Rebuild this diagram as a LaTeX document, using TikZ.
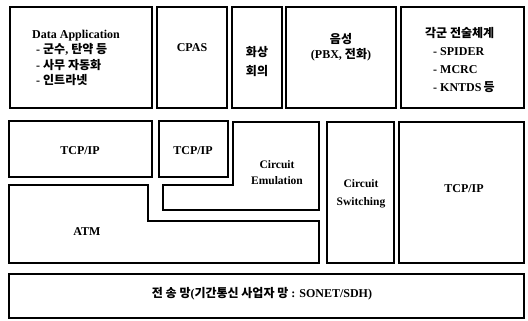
\documentclass[tikz,border=0pt]{standalone}
\usepackage{fontspec}
\setmainfont{Liberation Serif}
\newfontfamily\kr{Noto Sans CJK KR}
\newcommand{\K}[1]{{\kr\bfseries #1}}
\tikzset{
  box/.style={draw=black,line width=1.3pt,line join=miter},
  lbl/.style={font=\bfseries\fontsize{12}{15}\selectfont,align=center,inner sep=0pt},
  lbll/.style={lbl,align=left},
  lblr/.style={lbl,font=\bfseries\fontsize{11.5}{17}\selectfont}
}
\begin{document}
\begin{tikzpicture}[x=1pt,y=-1pt]
\useasboundingbox (0,0) rectangle (528,321);
% top row
\draw[box] (10,7) rectangle (152,108);
\draw[box] (157,7) rectangle (227,108);
\draw[box] (232,7) rectangle (282,108);
\draw[box] (286,7) rectangle (396,108);
\draw[box] (401,7) rectangle (524,108);
% second row
\draw[box] (9,121) rectangle (152,177);
\draw[box] (159,121) rectangle (228,177);
\draw[box] (233,122) -- (319,122) -- (319,210) -- (163,210) -- (163,185) -- (233,185) -- cycle;
\draw[box] (327,122) rectangle (394,263);
\draw[box] (399,122) rectangle (524,263);
\draw[box] (9,185) -- (148,185) -- (148,221) -- (319,221) -- (319,263) -- (9,263) -- cycle;
% bottom
\draw[box] (9,274) rectangle (524,318);
% labels
\node[lbll,font=\bfseries\fontsize{12}{15.5}\selectfont,anchor=west] (dapp) at (32,58) {Data Application\\\hspace{4pt}- \K{군수}, \K{탄약 등}\\\hspace{4pt}- \K{사무 자동화}\\\hspace{4pt}- \K{인트라넷}};
\node[lbl] (cpas) at (192,48) {CPAS};
\node[lbl,font=\bfseries\fontsize{12}{19}\selectfont] (video) at (257,62) {\K{화상}\\\K{회의}};
\node[lbl] (voice) at (341,47) {\K{음성}\\(PBX, \K{전화})};
\node[lbll,font=\bfseries\fontsize{12}{18}\selectfont,anchor=west] (tact) at (425,60) {\K{각군 전술체계}\\\hspace{8pt}- SPIDER\\\hspace{8pt}- MCRC\\\hspace{8pt}- KNTDS\,\K{등}};
\node[lbl] (tcp1) at (80,151) {TCP/IP};
\node[lbl] (tcp2) at (193,151) {TCP/IP};
\node[lblr,font=\bfseries\fontsize{11.5}{16}\selectfont] (ce) at (277,173) {Circuit\\Emulation};
\node[lblr,font=\bfseries\fontsize{11.5}{18}\selectfont] (cs) at (361,194) {Circuit\\Switching};
\node[lbl] (tcp3) at (464,189) {TCP/IP};
\node[lbl] (atm) at (87,232) {ATM};
\node[lbl] (trans) at (262,294) {\K{전 송 망}(\K{기간통신 사업자 망} : SONET/SDH)};
\end{tikzpicture}
\end{document}
